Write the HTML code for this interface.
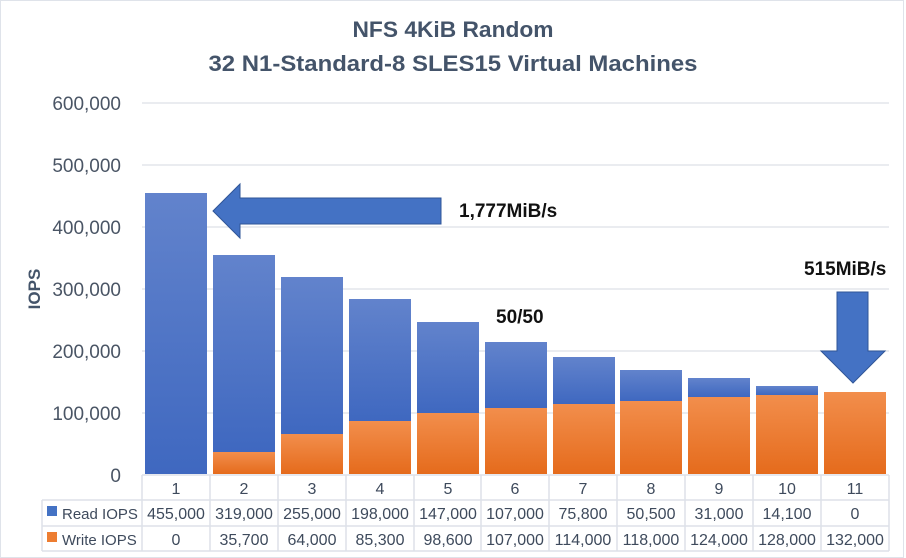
<!DOCTYPE html>
<html><head><meta charset="utf-8"><style>
html,body{margin:0;padding:0;background:#fff;}
svg{display:block;font-family:"Liberation Sans",sans-serif;}
</style></head><body>
<svg width="906" height="558" viewBox="0 0 906 558" xmlns="http://www.w3.org/2000/svg">
<defs>
<linearGradient id="b" x1="0" y1="0" x2="0" y2="1"><stop offset="0" stop-color="#6283cc"/><stop offset="1" stop-color="#3f68c0"/></linearGradient>
<linearGradient id="o" x1="0" y1="0" x2="0" y2="1"><stop offset="0" stop-color="#f28e4c"/><stop offset="1" stop-color="#e56b1c"/></linearGradient>
</defs>
<rect x="0.5" y="0.5" width="903" height="557" fill="#fff" stroke="#dfe3ea"/>
<g fill="#44546a" font-weight="bold" text-anchor="middle">
<text x="453" y="37" font-size="22" textLength="201" lengthAdjust="spacingAndGlyphs">NFS 4KiB Random</text>
<text x="453" y="71" font-size="22" textLength="489" lengthAdjust="spacingAndGlyphs">32 N1-Standard-8 SLES15 Virtual Machines</text>
</g>
<g stroke="#e3e6ec" stroke-width="1.5">
<line x1="142" y1="103" x2="889" y2="103"/><line x1="142" y1="165" x2="889" y2="165"/>
<line x1="142" y1="227" x2="889" y2="227"/><line x1="142" y1="289" x2="889" y2="289"/>
<line x1="142" y1="351" x2="889" y2="351"/><line x1="142" y1="413" x2="889" y2="413"/>
</g>
<g fill="#4a5565" font-size="19" text-anchor="end">
<text x="121" y="110">600,000</text><text x="121" y="172">500,000</text>
<text x="121" y="234">400,000</text><text x="121" y="296">300,000</text>
<text x="121" y="358">200,000</text><text x="121" y="420">100,000</text>
<text x="121" y="482">0</text>
</g>
<text transform="translate(40,289) rotate(-90)" text-anchor="middle" font-size="17" font-weight="bold" fill="#44546a">IOPS</text>
<g>
<rect x="145" y="193" width="62" height="281" fill="url(#b)"/>
<rect x="213" y="255" width="62" height="197" fill="url(#b)"/><rect x="213" y="452" width="62" height="22" fill="url(#o)"/>
<rect x="281" y="277" width="62" height="157" fill="url(#b)"/><rect x="281" y="434" width="62" height="40" fill="url(#o)"/>
<rect x="349" y="299" width="62" height="122" fill="url(#b)"/><rect x="349" y="421" width="62" height="53" fill="url(#o)"/>
<rect x="417" y="322" width="62" height="91" fill="url(#b)"/><rect x="417" y="413" width="62" height="61" fill="url(#o)"/>
<rect x="485" y="342" width="62" height="66" fill="url(#b)"/><rect x="485" y="408" width="62" height="66" fill="url(#o)"/>
<rect x="553" y="357" width="62" height="47" fill="url(#b)"/><rect x="553" y="404" width="62" height="70" fill="url(#o)"/>
<rect x="620" y="370" width="62" height="31" fill="url(#b)"/><rect x="620" y="401" width="62" height="73" fill="url(#o)"/>
<rect x="688" y="378" width="62" height="19" fill="url(#b)"/><rect x="688" y="397" width="62" height="77" fill="url(#o)"/>
<rect x="756" y="386" width="62" height="9" fill="url(#b)"/><rect x="756" y="395" width="62" height="79" fill="url(#o)"/>
<rect x="824" y="392" width="62" height="82" fill="url(#o)"/>
</g>
<polygon points="213,211 240,184 240,198 441,198 441,224 240,224 240,238" fill="#4472c4" stroke="#2f5597" stroke-width="1"/>
<polygon points="837,292 868,292 868,351 885,351 853,383 821,351 837,351" fill="#4472c4" stroke="#2f5597" stroke-width="1"/>
<g font-weight="bold" font-size="19" fill="#111">
<text x="459" y="217">1,777MiB/s</text>
<text x="804" y="275">515MiB/s</text>
<text x="496" y="323">50/50</text>
</g>
<g stroke="#dde1e8" stroke-width="1.5" fill="none">
<line x1="142" y1="475" x2="889" y2="475"/>
<line x1="42" y1="500" x2="889" y2="500"/>
<line x1="42" y1="526" x2="889" y2="526"/>
<line x1="42" y1="551" x2="889" y2="551"/>
<line x1="42" y1="500" x2="42" y2="551"/>
<line x1="142" y1="475" x2="142" y2="551"/><line x1="210" y1="475" x2="210" y2="551"/>
<line x1="278" y1="475" x2="278" y2="551"/><line x1="346" y1="475" x2="346" y2="551"/>
<line x1="414" y1="475" x2="414" y2="551"/><line x1="481" y1="475" x2="481" y2="551"/>
<line x1="549" y1="475" x2="549" y2="551"/><line x1="617" y1="475" x2="617" y2="551"/>
<line x1="685" y1="475" x2="685" y2="551"/><line x1="753" y1="475" x2="753" y2="551"/>
<line x1="821" y1="475" x2="821" y2="551"/><line x1="889" y1="475" x2="889" y2="551"/>
</g>
<rect x="47" y="506" width="10" height="10" fill="#4472c4"/>
<rect x="47" y="532" width="10" height="10" fill="#ed7d31"/>
<g fill="#3e4a5c" font-size="15">
<text x="62" y="519">Read IOPS</text>
<text x="62" y="545">Write IOPS</text>
</g>
<g fill="#3e4a5c" font-size="16" text-anchor="middle">
<text x="176" y="494">1</text><text x="244" y="494">2</text><text x="312" y="494">3</text><text x="380" y="494">4</text>
<text x="448" y="494">5</text><text x="515" y="494">6</text><text x="583" y="494">7</text><text x="651" y="494">8</text>
<text x="719" y="494">9</text><text x="787" y="494">10</text><text x="855" y="494">11</text>
<text x="176" y="519">455,000</text><text x="244" y="519">319,000</text><text x="312" y="519">255,000</text><text x="380" y="519">198,000</text>
<text x="448" y="519">147,000</text><text x="515" y="519">107,000</text><text x="583" y="519">75,800</text><text x="651" y="519">50,500</text>
<text x="719" y="519">31,000</text><text x="787" y="519">14,100</text><text x="855" y="519">0</text>
<text x="176" y="545">0</text><text x="244" y="545">35,700</text><text x="312" y="545">64,000</text><text x="380" y="545">85,300</text>
<text x="448" y="545">98,600</text><text x="515" y="545">107,000</text><text x="583" y="545">114,000</text><text x="651" y="545">118,000</text>
<text x="719" y="545">124,000</text><text x="787" y="545">128,000</text><text x="855" y="545">132,000</text>
</g>
</svg>
</body></html>
